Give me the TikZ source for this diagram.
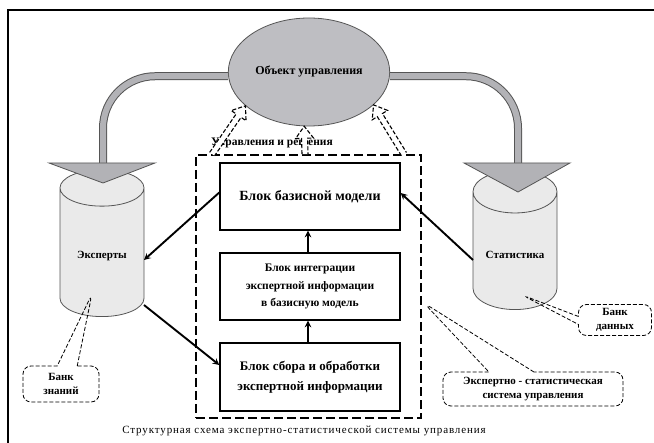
\documentclass[tikz,border=0pt]{standalone}
\usepackage{fontspec}
\setmainfont{Liberation Serif}
\usepackage{xcolor}
\definecolor{objgray}{RGB}{190,190,194}
\definecolor{pipegray}{RGB}{178,178,182}
\definecolor{edgegray}{RGB}{85,85,85}
\definecolor{storegray}{RGB}{234,234,234}
\usepackage{tikz}
\usetikzlibrary{positioning, shapes.geometric, shapes.callouts, arrows, calc}
\tikzstyle{frame} = [line width=2.3pt, black]
\tikzstyle{object} = [
    ellipse, text centered,
    minimum width=152pt,
    minimum height=108pt,
    draw=edgegray, fill=objgray,
    line width=0.8pt,
    font=\bfseries\fontsize{12}{14}\selectfont,
]
\tikzstyle{store} = [
    cylinder, shape border rotate=90, aspect=0.65,
    minimum width=84pt,
    minimum height=147pt,
    draw=edgegray, fill=storegray,
    line width=0.8pt,
    font=\bfseries\fontsize{11}{13}\selectfont,
]
\tikzstyle{pipe} = [
    draw=edgegray, line width=1pt,
    double=pipegray, double distance=6pt,
    rounded corners=52pt,
]
\tikzstyle{head} = [fill=pipegray, draw=edgegray, line width=0.8pt]
\tikzstyle{system} = [
    rectangle,
    minimum width=225pt,
    minimum height=263pt,
    draw, line width=1.8pt,
    dash pattern=on 9pt off 4pt,
]
\tikzstyle{block} = [
    rectangle, align=center,
    minimum width=180pt,
    minimum height=67pt,
    draw, fill=white,
    line width=1.4pt,
]
\tikzstyle{note} = [
    rectangle callout, align=center,
    rounded corners=8pt,
    draw, line width=0.8pt,
    dash pattern=on 4pt off 2pt,
    font=\bfseries\fontsize{11}{14}\selectfont,
]
\tikzstyle{ctrl} = [draw, fill=white, line width=1.1pt, dash pattern=on 4pt off 2pt]
\tikzstyle{arrow} = [->,>=stealth, line width=1.9pt]

% hollow dashed arrow from #1 to #2
\newcommand{\ctrlarrow}[2]{%
    \coordinate (ca) at (#1);
    \coordinate (cb) at (#2);
    \coordinate (cm) at ($(cb)!12pt!(ca)$);
    \draw[ctrl] ($(ca)!3pt!90:(cb)$) -- ($(cm)!3pt!90:(cb)$) -- ($(cm)!9pt!90:(cb)$) -- (cb)
        -- ($(cm)!9pt!-90:(cb)$) -- ($(cm)!3pt!-90:(cb)$) -- ($(ca)!3pt!-90:(cb)$);
}

\begin{document}
\begin{tikzpicture}[x=1pt, y=-1pt]
    \useasboundingbox (0,0) rectangle (654,443);
    \draw[frame] (654,10) -- (8,10) -- (8,443);

    % stores
    \node (exp) at (102,256) [store] {Эксперты};
    \node (stat) at (515,255) [store, minimum height=139pt] {Статистика};

    % object and pipes
    \node (obj) at (309,72) [object] {Объект управления};
    \coordinate (lbase) at (103,163);
    \coordinate (rbase) at (518,163);
    \draw[pipe] (obj.183) -| (lbase);
    \draw[pipe] (obj.357) -| (rbase);
    \draw[head] ($(lbase)+(-54,0)$) -- ($(lbase)+(52,0)$) -- ($(lbase)+(0,20)$) -- cycle;
    \draw[head] ($(rbase)+(-54,0)$) -- ($(rbase)+(52,0)$) -- ($(rbase)+(0,29)$) -- cycle;

    % system
    \node (sys) at (308.5,286.5) [system] {};
    \node (b1) at (310,196.5) [block, font=\bfseries\fontsize{14}{16}\selectfont] {Блок базисной модели};
    \node (b2) at (310,286.5) [block, font=\bfseries\fontsize{11.5}{17.5}\selectfont] {Блок интеграции\\экспертной информации\\в базисную модель};
    \node (b3) at (310,377) [block, minimum height=68pt, font=\bfseries\fontsize{13}{20}\selectfont] {Блок сбора и обработки\\экспертной информации};
    \node (ctl) at (272,143) [font=\bfseries\fontsize{11.5}{13}\selectfont] {Управления и решения};

    % arrows
    \draw[arrow] ([xshift=-2pt]b2.north) -- ([xshift=-2pt]b1.south);
    \draw[arrow] ([xshift=-2pt]b3.north) -- ([xshift=-2pt]b2.south);
    \draw[arrow] ([yshift=4pt]b1.west) -- ($(exp.center)+(42,4)$);
    \draw[arrow] ($(exp.center)+(42,49)$) -- ([yshift=12pt]b3.west);
    \draw[arrow] ($(stat.center)+(-42,5)$) -- ([yshift=3.5pt]b1.east);

    \ctrlarrow{[xshift=17pt]sys.north west}{obj.208}
    \ctrlarrow{[xshift=-3.5pt]sys.north}{obj.265}
    \ctrlarrow{[xshift=-18pt]sys.north east}{obj.333}

    % notes
    \coordinate (kbpt) at ($(exp.center)+(-10,38)$);
    \coordinate (dbpt) at ($(stat.center)+(7,40)$);
    \coordinate (syspt) at ($(sys.east)+(2,16.5)$);
    \node (kb) at (61,384) [note, minimum width=76pt, minimum height=36pt,
        callout absolute pointer={(kbpt)}, callout pointer width=20pt] {Банк\\знаний};
    \node (db) at (615,320) [note, minimum width=73pt, minimum height=31pt,
        callout absolute pointer={(dbpt)}, callout pointer width=8pt] {Банк\\данных};
    \node (esys) at (533,389) [note, minimum width=180pt, minimum height=34pt,
        font=\bfseries\fontsize{11}{13.5}\selectfont,
        callout absolute pointer={(syspt)}, callout pointer width=45pt] {Экспертно - статистическая\\система управления};

    \node (cap) at (304,431) [font=\fontsize{11}{13}\selectfont\addfontfeatures{LetterSpace=8}] {Структурная схема экспертно-статистической системы управления};
\end{tikzpicture}
\end{document}
